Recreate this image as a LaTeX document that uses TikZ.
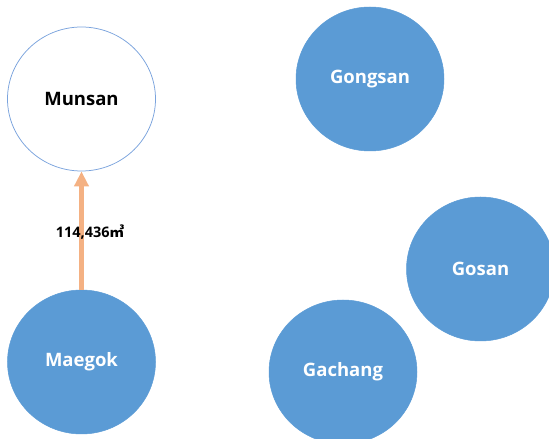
\documentclass[tikz,border=0pt]{standalone}
\usepackage{fontspec}
\setmainfont{Open Sans}
\newfontfamily\cjkfont{Noto Sans CJK KR}
\usetikzlibrary{shapes.geometric,arrows.meta}
\definecolor{nodeblue}{HTML}{5B9BD5}
\definecolor{rimblue}{HTML}{7AA3DD}
\definecolor{flow}{HTML}{F4B183}
\tikzset{
  place/.style={ellipse, minimum width=148pt, minimum height=144pt, inner sep=0pt,
    font=\fontsize{18.5}{22}\selectfont\bfseries},
  filled/.style={place, fill=nodeblue, draw=nodeblue, line width=0.5pt, text=white},
  hollow/.style={place, fill=white, draw=rimblue, line width=0.75pt, text=black},
  flowarrow/.style={draw=flow, line width=5pt, -{Triangle[width=14pt,length=15pt]}},
  flowlabel/.style={font=\fontsize{14.5}{17}\selectfont\bfseries, text=black, inner sep=1pt}
}
\begin{document}
\begin{tikzpicture}[x=1pt,y=1pt]
\useasboundingbox (0,0) rectangle (549,439);
\node[hollow] (munsan) at (81.5,340) {Munsan};
\node[filled] (maegok) at (81.5,77) {Maegok};
\node[filled] (gongsan) at (370,360) {Gongsan};
\node[filled] (gosan) at (480.5,170) {Gosan};
\node[filled] (gachang) at (343,67) {Gachang};
\draw[flowarrow] (maegok) -- (munsan);
\node[flowlabel] (vol) at (90,207) {114,436{\cjkfont ㎥}};
\end{tikzpicture}
\end{document}
